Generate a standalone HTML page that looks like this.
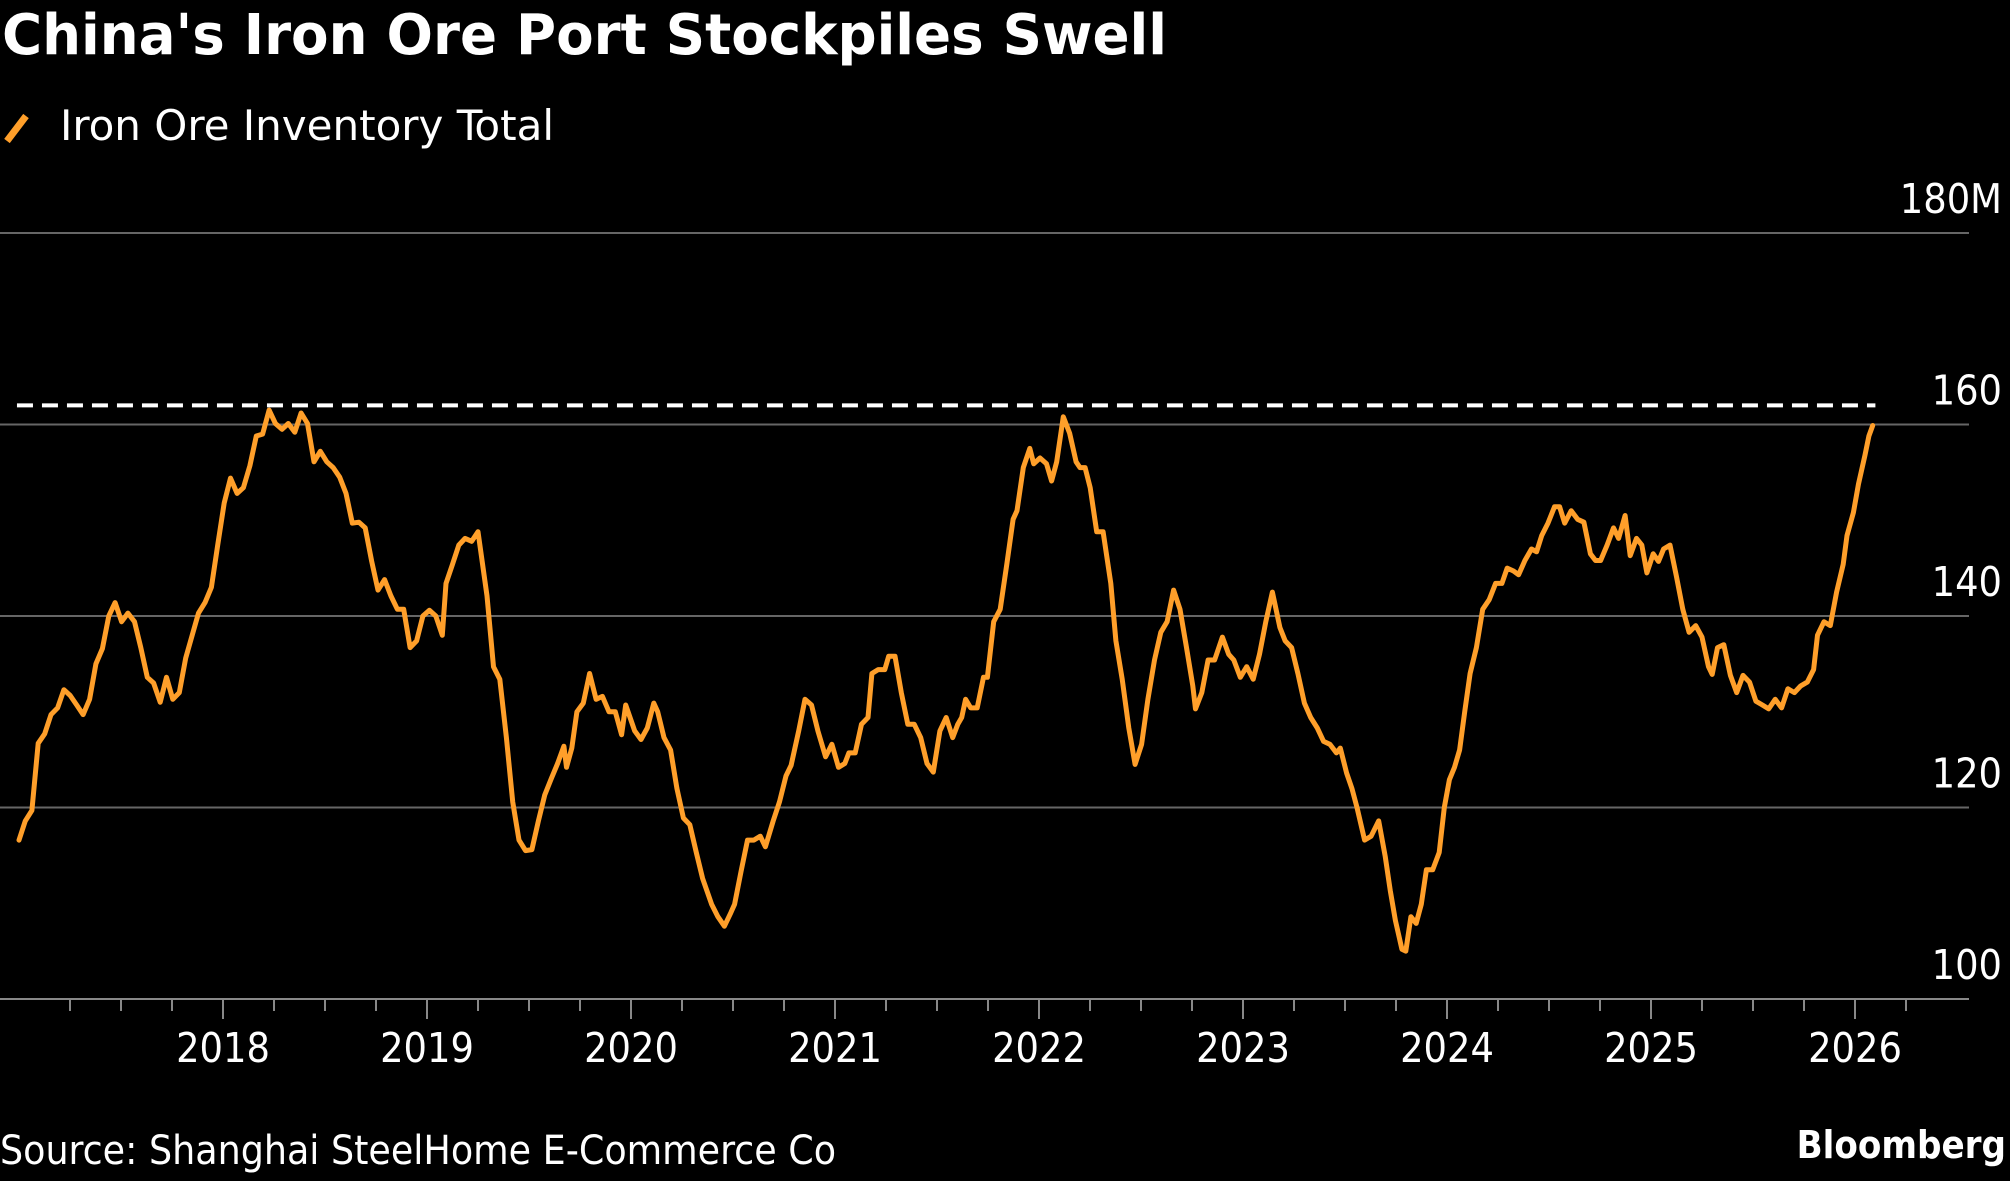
<!DOCTYPE html>
<html><head><meta charset="utf-8"><style>
html,body{margin:0;padding:0;background:#000;}
body{width:2010px;height:1176px;overflow:hidden;}
text{font-family:"DejaVu Sans Condensed","DejaVu Sans",sans-serif;font-stretch:condensed;}
</style></head><body>
<svg id="chart" width="2010" height="1176" xmlns="http://www.w3.org/2000/svg">
<text x="2" y="54" fill="#fff" font-size="56" font-weight="bold" textLength="1165" lengthAdjust="spacingAndGlyphs">China's Iron Ore Port Stockpiles Swell</text>
<line x1="7" y1="141" x2="26" y2="116" stroke="#ff9f2a" stroke-width="7" stroke-linecap="butt"/>
<text x="60" y="140" fill="#fff" font-size="42" textLength="494" lengthAdjust="spacingAndGlyphs">Iron Ore Inventory Total</text>
<g id="grid"></g><g id="xaxis"></g><g id="marks"></g>
<text x="0" y="1164" fill="#fff" font-size="40" textLength="836" lengthAdjust="spacingAndGlyphs">Source: Shanghai SteelHome E-Commerce Co</text>
<text x="2006" y="1158" fill="#fff" font-size="38" font-weight="bold" text-anchor="end">Bloomberg</text>
</svg>
<script>
const yTicks=[100,120,140,160,180];
const yTickLabels=["100","120","140","160","180M"];
const xYears=[2018,2019,2020,2021,2022,2023,2024,2025,2026];
const refLevel=[162];
const dates=[2017,2017.031,2017.063,2017.094,2017.126,2017.157,2017.189,2017.22,2017.251,2017.283,2017.314,2017.346,2017.377,2017.409,2017.44,2017.471,2017.503,2017.534,2017.566,2017.597,2017.629,2017.66,2017.692,2017.723,2017.754,2017.786,2017.817,2017.849,2017.88,2017.912,2017.943,2017.974,2018.006,2018.037,2018.069,2018.1,2018.132,2018.163,2018.194,2018.226,2018.257,2018.289,2018.32,2018.352,2018.383,2018.414,2018.446,2018.477,2018.509,2018.54,2018.572,2018.603,2018.634,2018.666,2018.697,2018.729,2018.76,2018.792,2018.823,2018.855,2018.886,2018.917,2018.949,2018.98,2019.012,2019.043,2019.075,2019.093,2019.125,2019.156,2019.187,2019.219,2019.25,2019.294,2019.326,2019.357,2019.389,2019.42,2019.451,2019.483,2019.514,2019.546,2019.577,2019.609,2019.64,2019.671,2019.684,2019.71,2019.735,2019.766,2019.797,2019.829,2019.86,2019.892,2019.923,2019.954,2019.974,2020.018,2020.049,2020.08,2020.112,2020.131,2020.162,2020.194,2020.225,2020.257,2020.288,2020.32,2020.351,2020.395,2020.426,2020.458,2020.489,2020.508,2020.539,2020.571,2020.602,2020.634,2020.659,2020.697,2020.728,2020.76,2020.785,2020.822,2020.853,2020.885,2020.916,2020.954,2020.985,2021.017,2021.048,2021.068,2021.099,2021.13,2021.162,2021.181,2021.212,2021.244,2021.263,2021.294,2021.325,2021.357,2021.388,2021.42,2021.451,2021.482,2021.514,2021.545,2021.577,2021.602,2021.621,2021.64,2021.665,2021.697,2021.728,2021.747,2021.778,2021.81,2021.842,2021.873,2021.892,2021.923,2021.955,2021.974,2022.005,2022.037,2022.062,2022.087,2022.119,2022.15,2022.182,2022.201,2022.226,2022.251,2022.283,2022.314,2022.352,2022.377,2022.408,2022.44,2022.471,2022.503,2022.534,2022.566,2022.597,2022.628,2022.66,2022.691,2022.723,2022.754,2022.767,2022.798,2022.829,2022.861,2022.899,2022.93,2022.955,2022.987,2023.018,2023.05,2023.081,2023.112,2023.144,2023.181,2023.207,2023.238,2023.269,2023.301,2023.332,2023.364,2023.395,2023.426,2023.458,2023.477,2023.508,2023.534,2023.559,2023.596,2023.628,2023.665,2023.697,2023.722,2023.747,2023.779,2023.798,2023.823,2023.849,2023.874,2023.899,2023.93,2023.962,2023.987,2024.012,2024.037,2024.062,2024.087,2024.113,2024.144,2024.175,2024.207,2024.238,2024.269,2024.295,2024.326,2024.351,2024.382,2024.414,2024.439,2024.464,2024.495,2024.527,2024.552,2024.577,2024.609,2024.64,2024.671,2024.703,2024.728,2024.753,2024.785,2024.816,2024.841,2024.873,2024.898,2024.929,2024.955,2024.98,2025.011,2025.037,2025.062,2025.093,2025.125,2025.156,2025.187,2025.219,2025.25,2025.282,2025.3,2025.326,2025.357,2025.389,2025.42,2025.451,2025.483,2025.514,2025.546,2025.577,2025.609,2025.64,2025.671,2025.703,2025.734,2025.766,2025.797,2025.816,2025.848,2025.879,2025.91,2025.942,2025.961,2025.992,2026.017,2026.049,2026.068,2026.087];
const values=[116.6,118.6,119.7,126.7,127.7,129.7,130.4,132.3,131.7,130.7,129.7,131.3,135,136.6,140,141.4,139.4,140.3,139.4,136.7,133.6,133,131,133.6,131.3,132,135.6,138,140.3,141.4,143,147.4,151.8,154.4,152.8,153.4,155.7,158.8,159,161.5,160.1,159.5,160.1,159.2,161.2,160.1,156.1,157.2,156.1,155.5,154.5,152.8,149.7,149.8,149.2,145.7,142.7,143.8,142.1,140.7,140.7,136.7,137.4,140,140.6,140,138,143.4,145.4,147.4,148.1,147.8,148.8,142.1,134.7,133.4,127.3,120.6,116.6,115.5,115.6,118.6,121.3,123,124.6,126.4,124.2,126.2,130,130.9,134,131.3,131.6,130,130,127.6,130.7,128,127.1,128.3,130.9,130,127.3,126,122,118.9,118.2,115.3,112.6,109.9,108.6,107.6,109,109.9,113.3,116.6,116.6,117,115.9,118.6,120.6,123.3,124.4,128,131.3,130.7,128,125.3,126.6,124.2,124.6,125.7,125.7,128.7,129.4,134,134.4,134.4,135.8,135.8,132,128.7,128.7,127.3,124.6,123.7,128,129.4,127.3,128.7,129.4,131.3,130.4,130.4,133.6,133.6,139.4,140.7,145.4,150.1,151,155.5,157.5,155.9,156.5,155.9,154.1,156.1,160.8,159.1,156.1,155.5,155.5,153.4,148.8,148.8,143.4,137.4,133.4,128.3,124.5,126.6,131.3,135.4,138.3,139.4,142.7,140.7,136.7,132.7,130.3,132,135.4,135.4,137.8,136,135.4,133.6,134.7,133.4,136,139.4,142.5,138.8,137.4,136.7,134,130.9,129.4,128.3,126.9,126.6,125.7,126.2,123.6,122,120,116.6,117,118.6,114.9,111.3,108.2,105.2,105,108.6,107.9,109.9,113.5,113.5,115.3,120,122.9,124.2,126,130,134,136.7,140.7,141.7,143.4,143.4,145,144.7,144.3,145.8,147,146.7,148.4,149.7,151.4,151.4,149.7,151,150.1,149.8,146.5,145.8,145.8,147.4,149.2,148.1,150.5,146.3,148.1,147.4,144.5,146.5,145.7,147,147.4,144.1,140.7,138.3,139,137.8,134.7,133.9,136.7,137,133.8,132,133.8,133.1,131.1,130.7,130.3,131.3,130.4,132.4,132,132.7,133.1,134.4,138,139.4,139,142.5,145.4,148.4,150.8,153.8,156.8,158.8,159.9];
const NS="http://www.w3.org/2000/svg";
function xs(t){return 223+(t-2018)*204;}
function ys(v){return 999-(v-100)*9.575;}
function mk(tag,attrs,parent){const e=document.createElementNS(NS,tag);for(const k in attrs)e.setAttribute(k,attrs[k]);parent.appendChild(e);return e;}
const grid=document.getElementById('grid');
yTicks.forEach((v,i)=>{
  if(i>0){const l=mk('line',{x1:0,x2:1969,y1:ys(v),y2:ys(v),stroke:'#666','stroke-width':2},grid);
  
  }
  const t=mk('text',{x:2002,y:ys(v)-20,fill:'#fff','font-size':41,'text-anchor':'end'},grid);
  t.textContent=yTickLabels[i];
  
  
});
const xa=document.getElementById('xaxis');
const ax=mk('line',{x1:0,x2:1969,y1:999,y2:999,stroke:'#888','stroke-width':2},xa);


for(let q=2017.25;q<=2026.26;q+=0.25){
  const major=Math.abs(q-Math.round(q))<0.01;
  const tk=mk('line',{x1:xs(q),x2:xs(q),y1:999,y2:major?1019:1011,stroke:'#888','stroke-width':2},xa);
  
  
}
xYears.forEach(y=>{
  const t=mk('text',{x:xs(y),y:1062,fill:'#fff','font-size':41,'text-anchor':'middle'},xa);
  t.textContent=y;
  
  
});
const marks=document.getElementById('marks');
const ref=mk('line',{x1:xs(2016.99),x2:xs(2026.1),y1:ys(refLevel[0]),y2:ys(refLevel[0]),stroke:'#fff','stroke-width':4,'stroke-dasharray':'16 9'},marks);


let d='';
dates.forEach((t,i)=>{d+=(i?'L':'M')+xs(t).toFixed(1)+' '+ys(values[i]).toFixed(1);});
const p=mk('path',{d:d,fill:'none',stroke:'#ff9f2a','stroke-width':5,'stroke-linejoin':'round','stroke-linecap':'round'},marks);


</script>
</body></html>
